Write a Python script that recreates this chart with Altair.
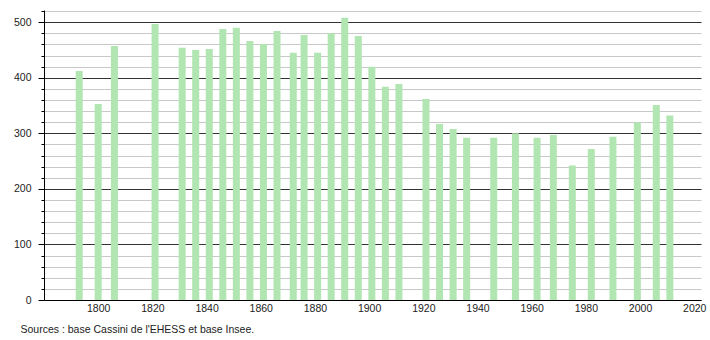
import altair as alt
import pandas as pd

years = [1793, 1800, 1806, 1821, 1831, 1836, 1841, 1846, 1851, 1856, 1861, 1866,
         1872, 1876, 1881, 1886, 1891, 1896, 1901, 1906, 1911, 1921, 1926, 1931,
         1936, 1946, 1954, 1962, 1968, 1975, 1982, 1990, 1999, 2006, 2011]
population = [412, 353, 457, 497, 454, 450, 452, 488, 490, 466, 461, 484,
              445, 477, 445, 480, 508, 475, 420, 384, 389, 362, 317, 308,
              292, 292, 300, 292, 297, 242, 272, 294, 320, 351, 332]
x_ticks = [1800, 1820, 1840, 1860, 1880, 1900, 1920, 1940, 1960, 1980, 2000, 2020]
y_ticks = list(range(0, 521, 20))
source = "Sources : base Cassini de l'EHESS et base Insee."

df = pd.DataFrame({"year": years, "pop": population})

font = "Liberation Sans"

chart = alt.Chart(df).mark_bar(color="#b1e5b1", size=7).encode(
    x=alt.X("year:Q",
            scale=alt.Scale(domain=[1780, 2022.5], nice=False, zero=False, padding=0),
            axis=alt.Axis(values=x_ticks, title=None, grid=False, ticks=False,
                          labelPadding=3, labelFont=font, labelFontSize=10.5,
                          labelColor="#222", domainColor="#000", format="d",
                          labelFlush=False)),
    y=alt.Y("pop:Q",
            scale=alt.Scale(domain=[0, 522], nice=False, padding=0),
            axis=alt.Axis(values=y_ticks, title=None, grid=True,
                          gridColor={"condition": {"test": "datum.value % 100 === 0", "value": "#333333"},
                                     "value": "#c8c8c8"},
                          tickSize={"condition": {"test": "datum.value % 100 === 0", "value": 6},
                                    "value": 3},
                          tickColor="#000", domainColor="#000",
                          labelExpr="datum.value % 100 === 0 ? datum.label : ''",
                          labelPadding=7, labelFont=font, labelFontSize=10.5,
                          labelColor="#222")),
).properties(
    width=657, height=290,
    title=alt.TitleParams(source, orient="bottom", anchor="start", frame="group",
                          dx=-23.5, offset=11, font=font, fontSize=10.5,
                          fontWeight="normal", color="#222"),
).configure(
    autosize=alt.AutoSizeParams(type="none"),
    padding={"left": 44, "top": 10, "right": 9, "bottom": 40},
    background="white",
).configure_view(stroke=None)

chart.save("out.html", embed_options={"renderer": "svg", "actions": False})
